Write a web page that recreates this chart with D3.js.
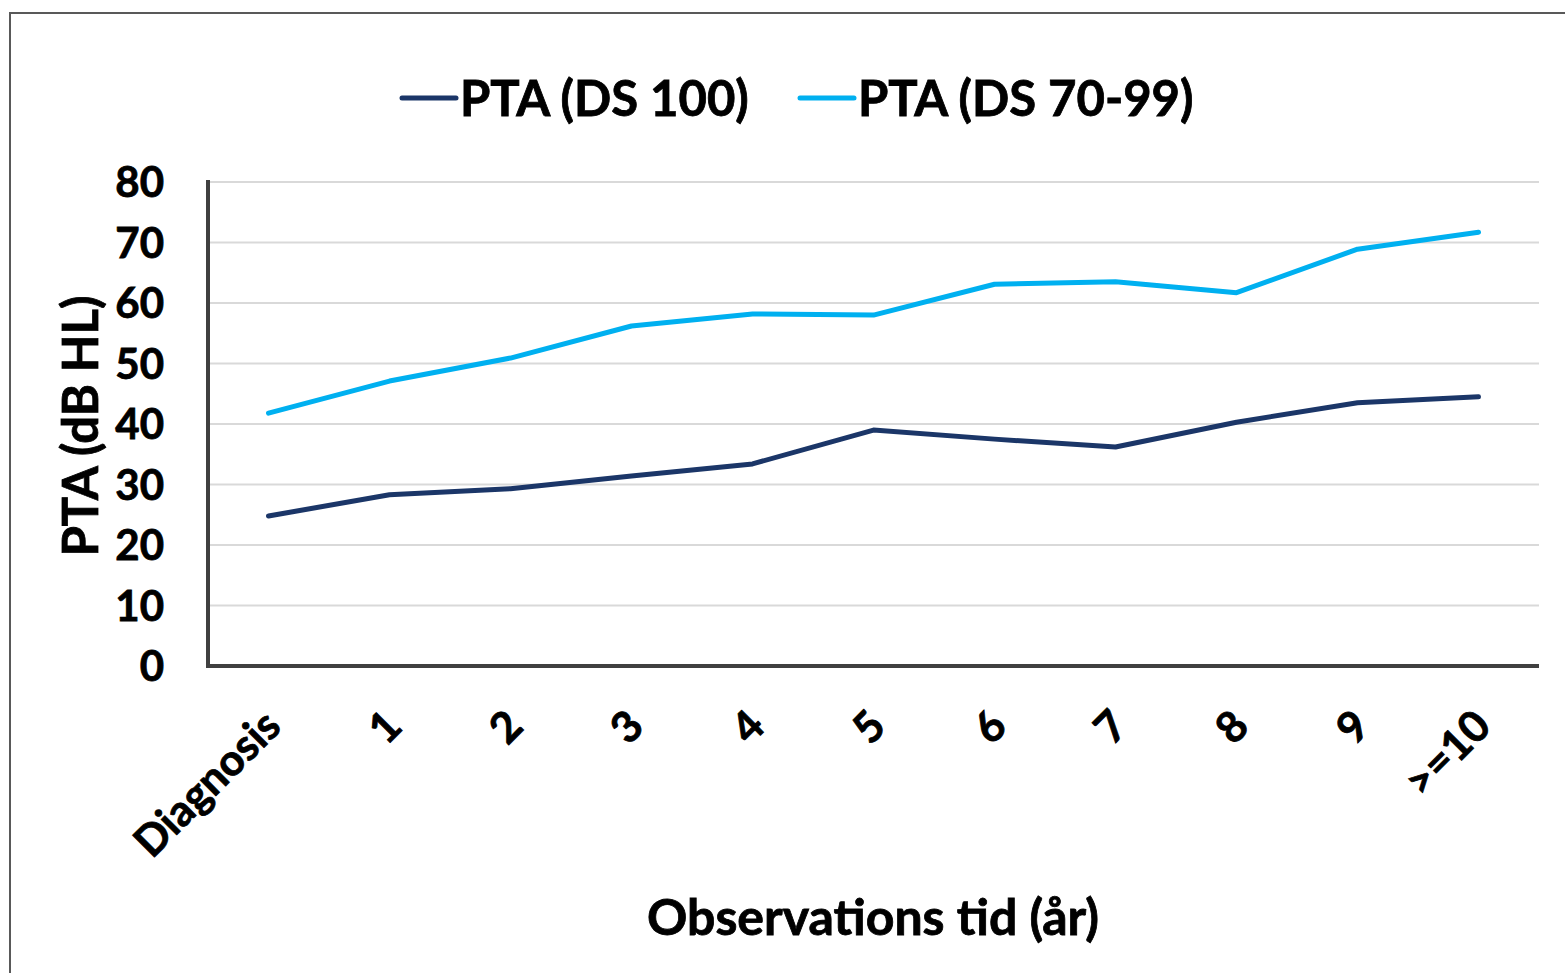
<!DOCTYPE html>
<html lang="en">
<head>
  <meta charset="UTF-8" />
  <title>PTA over observation time</title>
  <style>
    body { margin: 0; background: #fff; }
    svg { display: block; }
    text { font-family: Lato, "Open Sans", sans-serif; font-weight: bold; fill: #000; stroke: #000; stroke-width: 0.8px; }
  </style>
  <script src="https://cdn.jsdelivr.net/npm/d3@7"></script>
</head>
<body>
<script>
  const categories = ["Diagnosis", "1", "2", "3", "4", "5", "6", "7", "8", "9", ">=10"];
  const seriesNames = ["PTA (DS 100)", "PTA (DS 70-99)"];
  const ds100 = [24.8, 28.3, 29.3, 31.4, 33.4, 39.0, 37.5, 36.2, 40.3, 43.5, 44.5];
  const ds7099 = [41.8, 47.1, 50.9, 56.2, 58.2, 58.0, 63.1, 63.5, 61.7, 68.9, 71.7];
  const yTicks = [0, 10, 20, 30, 40, 50, 60, 70, 80];
  const colors = ["#1b3668", "#00b0f0"];

  const W = 1565, H = 973;
  const svg = d3.select("body").append("svg").attr("width", W).attr("height", H);

  // outer frame
  svg.append("rect")
    .attr("x", 10).attr("y", 13).attr("width", W + 20).attr("height", H + 20)
    .attr("fill", "none").attr("stroke", "#595959").attr("stroke-width", 2);

  const plotL = 208, plotR = 1539, plotT = 182, plotB = 666;

  const x = d3.scaleBand().domain(categories).range([plotL, plotR]);
  const y = d3.scaleLinear().domain([0, 80]).range([plotB, plotT]);

  // gridlines
  svg.append("g").selectAll("line")
    .data(yTicks.filter(d => d > 0))
    .join("line")
    .attr("x1", plotL).attr("x2", plotR)
    .attr("y1", d => y(d)).attr("y2", d => y(d))
    .attr("stroke", "#d9d9d9").attr("stroke-width", 2);

  // y tick labels
  svg.append("g").selectAll("text")
    .data(yTicks)
    .join("text")
    .attr("x", 164).attr("y", d => y(d))
    .attr("dy", "0.36em")
    .attr("text-anchor", "end")
    .attr("font-size", 42)
    .text(d => d);

  // axes lines
  svg.append("line")
    .attr("x1", plotL).attr("x2", plotL).attr("y1", plotT - 2).attr("y2", plotB + 2)
    .attr("stroke", "#404040").attr("stroke-width", 4);
  svg.append("line")
    .attr("x1", plotL - 2).attr("x2", plotR).attr("y1", plotB).attr("y2", plotB)
    .attr("stroke", "#404040").attr("stroke-width", 4);

  // x tick labels
  svg.append("g").selectAll("text")
    .data(categories)
    .join("text")
    .attr("transform", d => `translate(${x(d) + x.bandwidth() / 2 + 4},${718}) rotate(-45)`)
    .attr("text-anchor", "end")
    .attr("dy", "0.35em")
    .attr("font-size", 43)
    .text(d => d);

  // lines
  const line = d3.line()
    .x((d, i) => x(categories[i]) + x.bandwidth() / 2)
    .y(d => y(d));

  [ds100, ds7099].forEach((s, k) => {
    svg.append("path")
      .datum(s)
      .attr("d", line)
      .attr("fill", "none")
      .attr("stroke", colors[k])
      .attr("stroke-width", 5)
      .attr("stroke-linejoin", "round")
      .attr("stroke-linecap", "round");
  });

  // legend
  const legendX = [402, 800];
  seriesNames.forEach((name, k) => {
    const g = svg.append("g").attr("transform", `translate(${legendX[k]},98)`);
    g.append("line")
      .attr("x1", 0).attr("x2", 54).attr("y1", 0).attr("y2", 0)
      .attr("stroke", colors[k]).attr("stroke-width", 5).attr("stroke-linecap", "round");
    g.append("text")
      .attr("x", 58).attr("y", 0).attr("dy", "0.36em")
      .attr("font-size", 49)
      .text(name);
  });

  // axis titles
  svg.append("text")
    .attr("transform", `translate(80,${(plotT + plotB) / 2 + 2}) rotate(-90)`)
    .attr("text-anchor", "middle").attr("dy", "0.36em")
    .attr("font-size", 49)
    .text("PTA (dB HL)");

  svg.append("text")
    .attr("x", 873).attr("y", 917).attr("dy", "0.36em")
    .attr("text-anchor", "middle")
    .attr("font-size", 50)
    .text("Observations tid (år)");
</script>
</body>
</html>
